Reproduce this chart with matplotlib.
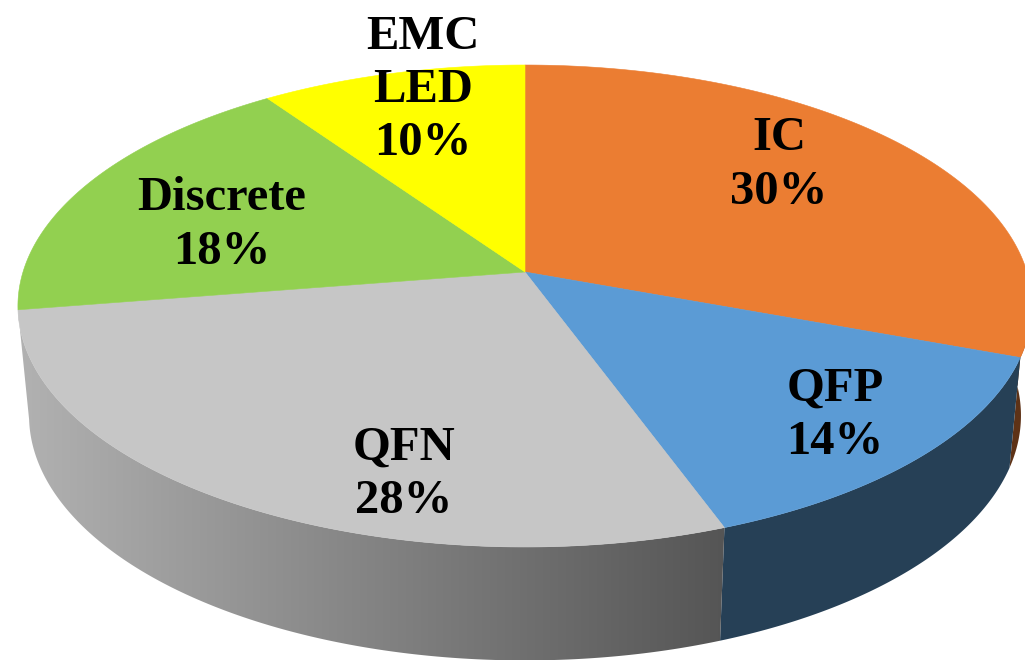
import numpy as np
import matplotlib
matplotlib.use("Agg")
from matplotlib import pyplot as plt
from matplotlib.patches import Polygon

labels = ["IC\n30%", "QFP\n14%", "QFN\n28%", "Discrete\n18%", "EMC\nLED\n10%"]
values = [30.6, 13.8, 28.1, 17.8, 9.7]
top_colors = ["#EB7D32", "#5B9BD5", "#C6C6C6", "#92D050", "#FFFF00"]
side_colors = ["#5E3216", "#264056", None, None, None]
label_xy = [(779, 165), (835, 415), (404, 474), (222, 225), (423, 90)]

CX, CY = 525, 272
A, B, K = 502, 236.2, 0.1411
A2, B2, CY2 = 491, 240, 381


def project(theta, a=A, b=B, cy=CY):
    # clockwise from 12 o'clock, far side gets squeezed a bit
    x, y = np.sin(theta), np.cos(theta)
    w = 1 + K * y
    return CX + a * x / w, cy - b * y / w


def rim(t0, t1, a=A, b=B, cy=CY):
    t = np.radians(np.linspace(t0, t1, 200))
    return np.column_stack(project(t, a, b, cy))


def wall(t0, t1):
    return np.vstack((rim(t0, t1), rim(t1, t0, A2, B2, CY2)))


fig = plt.figure(figsize=(10.25, 6.6), dpi=100)
ax = fig.add_axes([0, 0, 1, 1])
ax.set_xlim(0, 1025)
ax.set_ylim(660, 0)
ax.axis("off")

edges = np.concatenate(([0], np.cumsum(values))) * 3.6

# sides first, the top face covers what sticks out
ax.add_patch(Polygon(wall(90, edges[1]), fc=side_colors[0], ec="none"))
ax.add_patch(Polygon(wall(edges[1], edges[2]), fc=side_colors[1], ec="none"))

grey = Polygon(wall(edges[2], edges[3]), fc="none", ec="none")
ax.add_patch(grey)
grad = np.linspace(0, 1, 256).reshape(1, -1)
cmap = matplotlib.colors.LinearSegmentedColormap.from_list("side", ["#B2B2B2", "#545454"])
img = ax.imshow(grad, cmap=cmap, extent=(15, 735, 670, 300), aspect="auto", zorder=1)
img.set_clip_path(grey)
ax.set_xlim(0, 1025)
ax.set_ylim(660, 0)

for i, color in enumerate(top_colors):
    pts = np.vstack(([CX, CY], rim(edges[i], edges[i + 1])))
    ax.add_patch(Polygon(pts, fc=color, ec=color, lw=0.4, zorder=2))

for text, (x, y) in zip(labels, label_xy):
    ax.text(x, y, text, ha="center", va="center", family="Liberation Serif",
            weight="bold", fontsize=35, linespacing=1.27, color="black", zorder=3)

fig.savefig("out.png", dpi=100)
